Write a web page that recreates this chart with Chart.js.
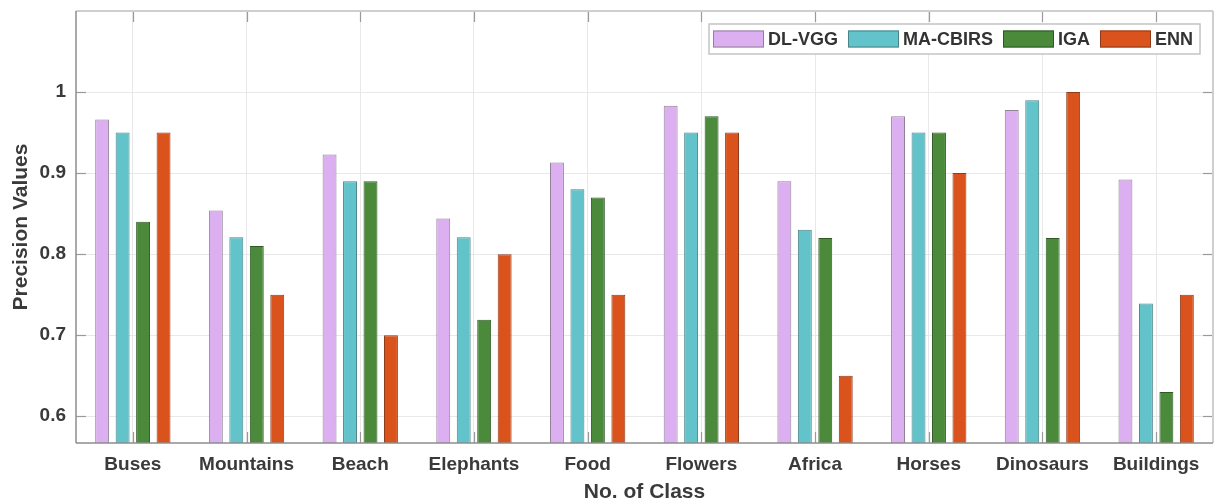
<!DOCTYPE html>
<html><head><meta charset="utf-8">
<script src="https://cdn.jsdelivr.net/npm/chart.js@4/dist/chart.umd.min.js"></script>
<style>html,body{margin:0;padding:0;background:#fff}#wrap{width:1220px;height:504px}</style>
</head><body><div id="wrap"><canvas id="c" width="1220" height="504"></canvas></div>
<script>
const categories = ['Buses','Mountains','Beach','Elephants','Food','Flowers','Africa','Horses','Dinosaurs','Buildings'];
const seriesNames = ['DL-VGG','MA-CBIRS','IGA','ENN'];
const dlVgg   = [0.966,0.854,0.923,0.844,0.913,0.983,0.890,0.970,0.978,0.892];
const maCbirs = [0.950,0.821,0.890,0.821,0.880,0.950,0.830,0.950,0.990,0.739];
const iga     = [0.840,0.810,0.890,0.719,0.870,0.970,0.820,0.950,0.820,0.630];
const enn     = [0.950,0.750,0.700,0.800,0.750,0.950,0.650,0.900,1.000,0.750];
const yTicks  = [0.6,0.7,0.8,0.9,1.0];

const FONT = '"Liberation Sans", Arial, Helvetica, sans-serif';
const fills   = ['#dcaff0','#63c3cb','#4a8a3a','#da531c'];
const borders = ['#8f8296','#4a8388','#2f5a26','#8d3d1c'];
const seriesData = [dlVgg, maCbirs, iga, enn];

const decor = {
  id: 'decor',
  afterDraw(chart) {
    const {ctx, chartArea: a, scales: {x, y}} = chart;
    ctx.save();
    const line = (x1, y1, x2, y2) => { ctx.beginPath(); ctx.moveTo(x1, y1); ctx.lineTo(x2, y2); ctx.stroke(); };
    // inward tick marks
    ctx.strokeStyle = '#9a9a9a'; ctx.lineWidth = 1.2;
    yTicks.forEach(v => {
      const py = Math.round(y.getPixelForValue(v)) + 0.5;
      line(a.left, py, a.left + 10, py);
      line(a.right - 10, py, a.right, py);
    });
    categories.forEach((c, i) => {
      const px = Math.round(x.getPixelForValue(i)) + 0.5;
      line(px, a.top, px, a.top + 11);
      line(px, a.bottom - 11, px, a.bottom);
    });
    // axes box
    ctx.strokeStyle = '#cfcfcf'; ctx.lineWidth = 2;
    line(a.left, a.top, a.right, a.top);
    line(a.right, a.top, a.right, a.bottom);
    ctx.strokeStyle = '#8c8c8c'; ctx.lineWidth = 1.5;
    line(a.left, a.top, a.left, a.bottom);
    line(a.left, a.bottom, a.right, a.bottom);
    // legend
    ctx.font = 'bold 18px ' + FONT;
    const boxW = 51, boxH = 17, gap = 4, sep = 10;
    const ds = chart.data.datasets;
    const widths = ds.map(d => ctx.measureText(d.label).width);
    let total = 0;
    widths.forEach((w, i) => { total += boxW + gap + w + (i < widths.length - 1 ? sep : 0); });
    const R = a.right - 13, L = R - (4 + total + 7);
    const T = a.top + 13, B = T + 30;
    ctx.fillStyle = '#ffffff'; ctx.fillRect(L, T, R - L, B - T);
    ctx.strokeStyle = '#c4c4c4'; ctx.lineWidth = 1.5; ctx.strokeRect(L, T, R - L, B - T);
    let cx = L + 4;
    const cy = (T + B) / 2;
    ds.forEach((d, i) => {
      ctx.fillStyle = d.backgroundColor; ctx.fillRect(cx, cy - boxH / 2, boxW, boxH);
      ctx.strokeStyle = d.borderColor; ctx.lineWidth = 1; ctx.strokeRect(cx + 0.5, cy - boxH / 2 + 0.5, boxW - 1, boxH - 1);
      cx += boxW + gap;
      ctx.fillStyle = '#333333'; ctx.textAlign = 'left'; ctx.textBaseline = 'middle';
      ctx.fillText(d.label, cx, cy + 1);
      cx += widths[i] + sep;
    });
    ctx.restore();
  }
};

new Chart(document.getElementById('c'), {
  type: 'bar',
  data: {
    labels: categories,
    datasets: seriesNames.map((n, i) => ({
      label: n, data: seriesData[i],
      backgroundColor: fills[i], borderColor: borders[i], borderWidth: 1
    }))
  },
  options: {
    responsive: false, animation: false, devicePixelRatio: 1,
    layout: {padding: {top: 11, right: 7, left: 0, bottom: 0}},
    datasets: {bar: {categoryPercentage: 0.72, barPercentage: 0.68}},
    plugins: {legend: {display: false}, tooltip: {enabled: false}},
    scales: {
      x: {
        grid: {offset: false, color: '#e8e8e8', drawTicks: false, lineWidth: 1},
        border: {display: false},
        ticks: {font: {family: FONT, size: 19, weight: 'bold'}, color: '#3a3a3a', padding: 10, maxRotation: 0, autoSkip: false},
        title: {display: true, text: 'No. of Class', color: '#3a3a3a',
                font: {family: FONT, size: 21, weight: 'bold', lineHeight: 1}, padding: {top: 0, bottom: 1}},
        afterFit(s) { s.height = 61; s.paddingLeft = 0; s.paddingRight = 0; }
      },
      y: {
        min: 0.567, max: 1.1,
        afterBuildTicks(s) { s.ticks = yTicks.map(v => ({value: v})); },
        grid: {color: '#e8e8e8', drawTicks: false},
        border: {display: false},
        ticks: {font: {family: FONT, size: 19, weight: 'bold'}, color: '#3a3a3a', padding: 10,
                callback: v => String(Math.round(v * 10) / 10)},
        title: {display: true, text: 'Precision Values', color: '#3a3a3a',
                font: {family: FONT, size: 21, weight: 'bold', lineHeight: 1}, padding: {top: 11, bottom: 0}},
        afterFit(s) { s.width = 76; s.paddingTop = 0; s.paddingBottom = 0; }
      }
    }
  },
  plugins: [decor]
});
</script>
</body></html>
